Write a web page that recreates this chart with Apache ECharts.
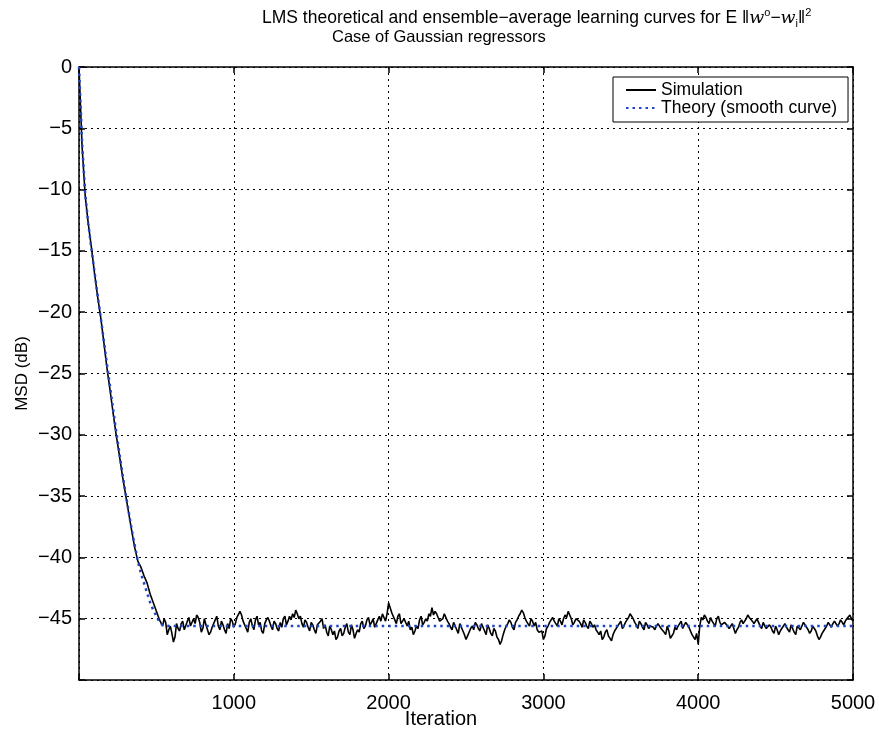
<!DOCTYPE html>
<html>
<head>
<meta charset="utf-8">
<script src="https://cdn.jsdelivr.net/npm/echarts@6/dist/echarts.min.js"></script>
<style>
  html, body { margin: 0; padding: 0; background: #fff; }
  #lmsChart { width: 879px; height: 730px; }
</style>
</head>
<body>
<div id="lmsChart"></div>
<script>
// simulation, transient part: one value every 20 iterations, 0..540 (dB)
const descentStep = 20;
const simDescent = [
  0, -6.5, -10.5, -12.8, -14.7, -16.8, -18.7, -20.4, -22.4, -24.5,
  -26.3, -28.2, -30.0, -31.6, -33.3, -34.8, -36.3, -37.8, -39.2, -40.3,
  -40.8, -41.5, -42.1, -43.0, -43.7, -44.4, -45.1, -45.6
];

// simulation, steady state: one value every 10 iterations, 550..5000 (dB)
const flatStart = 550;
const flatStep = 10;
const simFlat = [
  -45.0,-45.3,-46.3,-45.9,-45.6,-46.2,-46.9,-46.5,-45.4,-45.8,-46.0,-45.4,-45.2,-45.9,-45.8,-45.2,-44.9,-45.6,-45.7,-45.0,
  -45.4,-44.7,-44.9,-45.3,-46.1,-45.8,-45.0,-45.5,-45.9,-46.3,-46.1,-45.7,-45.6,-45.1,-44.8,-45.6,-45.9,-45.2,-45.5,-45.9,
  -46.2,-45.4,-45.8,-45.0,-45.2,-45.7,-45.4,-44.9,-45.0,-44.4,-44.7,-45.2,-45.3,-45.8,-46.1,-45.3,-45.0,-45.6,-45.9,-45.1,
  -44.8,-45.5,-45.3,-46.0,-46.2,-45.4,-45.1,-44.9,-45.2,-45.6,-45.9,-45.2,-45.4,-45.8,-46.0,-45.3,-45.7,-45.0,-44.8,-45.5,
  -45.2,-44.8,-45.1,-44.6,-44.9,-44.3,-44.6,-45.0,-44.8,-45.4,-45.7,-45.1,-45.3,-45.7,-46.0,-45.3,-45.5,-45.9,-46.2,-45.5,
  -45.6,-45.2,-45.0,-45.8,-45.5,-46.1,-46.4,-45.6,-45.9,-46.3,-46.0,-46.7,-46.5,-46.0,-45.8,-46.4,-46.2,-45.7,-45.4,-46.1,
  -46.3,-45.5,-45.9,-46.6,-46.2,-45.9,-46.1,-45.4,-45.2,-45.8,-45.6,-45.1,-44.9,-45.5,-45.3,-45.0,-45.7,-45.4,-45.1,-44.8,
  -45.2,-44.6,-44.9,-45.2,-44.6,-43.7,-44.1,-44.5,-44.8,-45.1,-45.4,-44.8,-44.6,-45.4,-45.2,-45.0,-45.3,-45.6,-45.2,-45.9,
  -45.7,-46.3,-46.0,-45.6,-45.8,-45.1,-44.8,-45.5,-45.3,-45.0,-45.2,-44.6,-44.8,-44.1,-44.7,-44.4,-44.6,-44.9,-45.2,-45.3,
  -45.0,-44.6,-44.9,-45.2,-45.4,-45.7,-45.9,-45.3,-45.6,-45.9,-46.2,-45.4,-45.7,-46.0,-46.3,-46.7,-46.4,-46.1,-45.8,-45.6,
  -45.9,-45.3,-45.5,-45.8,-46.0,-45.4,-45.7,-46.0,-46.3,-45.5,-45.8,-46.2,-46.4,-45.8,-46.0,-46.5,-46.7,-47.1,-46.8,-46.3,
  -45.9,-45.6,-45.4,-45.1,-45.3,-45.7,-45.9,-45.3,-45.1,-44.8,-44.6,-44.3,-44.5,-44.9,-45.2,-45.4,-45.6,-45.0,-45.2,-45.6,
  -45.3,-45.9,-46.1,-46.2,-46.0,-46.7,-46.4,-45.8,-45.6,-45.3,-45.1,-44.9,-45.2,-45.4,-45.6,-45.0,-45.2,-45.5,-45.0,-44.7,
  -44.9,-44.4,-44.7,-45.0,-45.5,-45.3,-45.0,-44.9,-45.2,-45.4,-45.7,-45.1,-45.3,-45.6,-45.8,-45.2,-45.4,-45.7,-45.5,-45.9,
  -46.1,-46.3,-46.0,-46.7,-46.5,-46.1,-45.9,-46.4,-46.6,-46.8,-46.3,-46.0,-45.8,-45.6,-45.4,-45.2,-45.8,-45.6,-45.3,-45.1,
  -44.9,-44.6,-44.8,-45.0,-45.3,-45.5,-45.8,-45.2,-45.4,-45.7,-45.9,-45.3,-45.5,-45.8,-45.6,-45.5,-45.7,-45.9,-45.6,-45.4,
  -45.6,-45.8,-45.9,-46.1,-46.3,-45.6,-46.0,-46.6,-46.4,-46.2,-45.7,-45.9,-45.6,-45.4,-45.2,-45.8,-45.5,-45.3,-45.4,-45.7,
  -46.0,-46.3,-46.5,-46.7,-46.2,-47.1,-45.6,-44.9,-45.1,-44.7,-44.9,-45.2,-45.4,-44.9,-45.2,-45.4,-45.6,-45.0,-44.8,-45.3,
  -45.5,-45.6,-45.3,-45.2,-45.6,-45.8,-45.9,-45.4,-45.8,-46.2,-45.9,-45.7,-45.3,-45.1,-45.4,-45.5,-45.0,-44.7,-44.9,-45.0,
  -45.2,-45.4,-45.5,-45.0,-45.3,-45.6,-45.8,-45.3,-45.6,-45.8,-45.9,-45.5,-45.7,-46.0,-46.2,-45.6,-45.9,-46.3,-46.0,-45.8,
  -45.6,-45.4,-45.7,-45.9,-46.1,-45.5,-45.8,-46.1,-46.3,-45.6,-45.7,-45.9,-45.6,-45.3,-45.5,-45.7,-45.9,-46.2,-46.0,-45.6,
  -45.8,-46.0,-46.4,-46.7,-46.5,-46.2,-46.0,-45.8,-45.6,-45.3,-45.5,-45.7,-45.4,-45.2,-45.3,-45.6,-45.4,-45.1,-45.3,-45.5,
  -45.2,-45.0,-44.9,-44.7,-45.0,-45.2
];

// theory (smooth curve)
const theoryIter = [0, 10, 20, 40, 60, 80, 100, 120, 140, 160, 180, 200, 220, 240, 260, 280,
  300, 320, 340, 360, 380, 400, 420, 440, 460, 480, 500, 520, 540, 580, 5000];
const theoryMSD = [0, -3.0, -6.2, -10.3, -12.8, -14.8, -16.7, -18.6, -20.4, -22.3, -24.2,
  -26.0, -27.9, -29.7, -31.4, -33.1, -34.7, -36.2, -37.7, -39.0, -40.3, -41.3, -42.1,
  -42.9, -43.7, -44.3, -44.8, -45.3, -45.5, -45.6, -45.6];

const xTicks = [0, 1000, 2000, 3000, 4000, 5000];
const yTicks = [0, -5, -10, -15, -20, -25, -30, -35, -40, -45, -50];

const font = "'Liberation Sans', Arial, sans-serif";
const gridLine = { show: true, lineStyle: { color: "#000", width: 1, type: [2, 4] } };
const frame = { show: true, onZero: false, lineStyle: { color: "#000", width: 1.5 } };
const ticksIn = { show: true, inside: true, length: 6, lineStyle: { color: "#000", width: 1.5 } };

let simData = simDescent.map((v, i) => [i * descentStep, v])
  .concat(simFlat.map((v, i) => [flatStart + i * flatStep, v]));

let chart = echarts.init(document.getElementById("lmsChart"));
chart.setOption({
  backgroundColor: "#fff",
  animation: false,
  textStyle: { fontFamily: font },
  title: [
    {
      left: 262,
      top: 7,
      padding: 0,
      text: "{n|LMS theoretical and ensemble\u2212average learning curves for E \u2016}{it|w}{sup|o}{n|\u2212}{it|w}{sub|i}{n|\u2016}{sup|2}",
      textStyle: {
        fontWeight: "normal",
        rich: {
          n: { fontSize: 17.5, fontWeight: "normal", color: "#000", fontFamily: font, lineHeight: 22 },
          it: { fontSize: 17.5, fontWeight: "normal", color: "#000", fontFamily: "'DejaVu Serif', serif", fontStyle: "italic", lineHeight: 22 },
          sup: { fontSize: 11, fontWeight: "normal", color: "#000", fontFamily: font, verticalAlign: "top", lineHeight: 22, padding: [0, 0, 10, 0] },
          sub: { fontSize: 11, fontWeight: "normal", color: "#000", fontFamily: font, verticalAlign: "bottom", lineHeight: 22, padding: [8, 0, 0, 0] }
        }
      }
    },
    {
      left: 332,
      top: 29,
      padding: 0,
      text: "Case of Gaussian regressors",
      textStyle: { fontSize: 16.5, fontWeight: "normal", color: "#000", fontFamily: font }
    }
  ],
  legend: {
    left: 613,
    top: 77,
    orient: "vertical",
    backgroundColor: "#fff",
    borderColor: "#000",
    borderWidth: 1,
    borderRadius: 0,
    padding: [4, 11, 5, 12],
    itemGap: 0,
    itemWidth: 30,
    itemHeight: 15,
    itemStyle: { opacity: 0 },
    textStyle: { fontSize: 17.5, lineHeight: 16, color: "#000", fontFamily: font },
    data: ["Simulation", "Theory (smooth curve)"]
  },
  grid: { left: 79, right: 26, top: 67, bottom: 50, containLabel: false, outerBoundsMode: "none" },
  xAxis: [
    {
      type: "value",
      min: xTicks[0],
      max: xTicks[xTicks.length - 1],
      interval: 1000,
      name: "Iteration",
      nameLocation: "middle",
      nameGap: 29,
      nameMoveOverlap: false,
      nameTextStyle: { fontSize: 20, color: "#000", padding: [0, 50, 0, 0] },
      axisLine: frame,
      axisTick: ticksIn,
      axisLabel: {
        color: "#000",
        fontSize: 20,
        margin: 13,
        formatter: v => (v === 0 ? "" : String(v))
      },
      splitLine: gridLine
    },
    {
      type: "value",
      position: "top",
      min: xTicks[0],
      max: xTicks[xTicks.length - 1],
      interval: 1000,
      axisLine: frame,
      axisTick: ticksIn,
      axisLabel: { show: false },
      splitLine: { show: false }
    }
  ],
  yAxis: [
    {
      type: "value",
      min: yTicks[yTicks.length - 1],
      max: yTicks[0],
      interval: 5,
      name: "MSD (dB)",
      nameLocation: "middle",
      nameGap: 48,
      nameMoveOverlap: false,
      nameTextStyle: { fontSize: 17, color: "#000" },
      axisLine: frame,
      axisTick: ticksIn,
      axisLabel: {
        color: "#000",
        fontSize: 20,
        margin: 7,
        formatter: v => (v === -50 ? "" : String(v).replace("-", "\u2212"))
      },
      splitLine: gridLine
    },
    {
      type: "value",
      position: "right",
      min: yTicks[yTicks.length - 1],
      max: yTicks[0],
      interval: 5,
      axisLine: frame,
      axisTick: ticksIn,
      axisLabel: { show: false },
      splitLine: { show: false }
    }
  ],
  series: [
    {
      name: "Simulation",
      type: "line",
      showSymbol: false,
      symbol: "none",
      data: simData,
      lineStyle: { color: "#000", width: 1.6 },
      itemStyle: { color: "#000" },
      z: 2
    },
    {
      name: "Theory (smooth curve)",
      type: "line",
      showSymbol: false,
      symbol: "none",
      data: theoryIter.map((it, i) => [it, theoryMSD[i]]),
      lineStyle: { color: "#1f45c8", width: 2.5, type: [2.5, 4] },
      itemStyle: { color: "#1f45c8" },
      z: 3
    }
  ]
});
</script>
</body>
</html>
